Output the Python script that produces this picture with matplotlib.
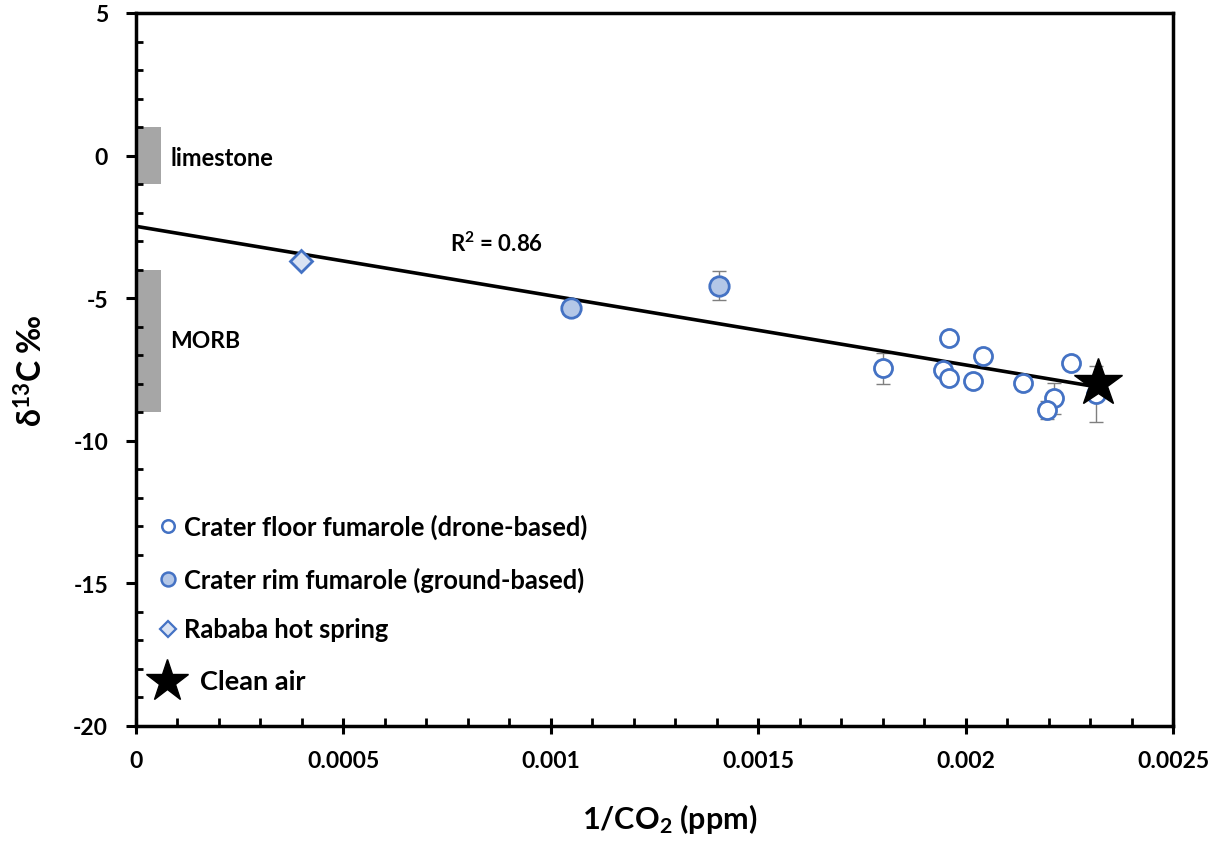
import matplotlib
matplotlib.use("Agg")
import matplotlib.pyplot as plt
from matplotlib.ticker import MultipleLocator, FuncFormatter
import numpy as np

plt.rcParams['font.family'] = ['Lato', 'DejaVu Sans']
plt.rcParams['mathtext.fontset'] = 'custom'
plt.rcParams['mathtext.rm'] = 'Lato:bold'
plt.rcParams['mathtext.bf'] = 'Lato:bold'
plt.rcParams['mathtext.it'] = 'Lato:bold'
plt.rcParams['mathtext.default'] = 'bf'

# ---- data ----
floor_x = [0.00180, 0.001961, 0.001946, 0.001961, 0.002017, 0.002043,
           0.002138, 0.002253, 0.002214, 0.002197, 0.002314]
floor_y = [-7.46, -6.41, -7.52, -7.81, -7.89, -7.02,
           -7.97, -7.27, -8.51, -8.92, -8.36]
floor_err = [0.55, 0.0, 0.0, 0.0, 0.0, 0.0, 0.0, 0.0, 0.55, 0.3, 0.97]

rim_x = [0.001048, 0.001406]
rim_y = [-5.34, -4.56]
rim_err = [0.0, 0.5]

spring_x = [0.000397]
spring_y = [-3.68]

air_x = [0.00232]
air_y = [-7.97]

trend_intercept = -2.48
trend_slope = -2430.0
trend_xmax = 0.002307
r2_text = "R$^2$ = 0.86"

limestone_range = (-1.0, 1.0)
morb_range = (-9.0, -4.0)
bar_width = 0.00006

legend_labels = ["Crater floor fumarole (drone-based)",
                 "Crater rim fumarole (ground-based)",
                 "Rababa hot spring",
                 "Clean air"]

blue = "#4472C4"
rim_fill = "#B4C7E7"
spring_fill = "#DAE3F3"
gray_bar = "#A6A6A6"

fig = plt.figure(figsize=(12.26, 8.54), dpi=100)
ax = fig.add_axes([136/1226, 1-727/854, (1173-136)/1226, (727-14)/854])

ax.set_xlim(0, 0.0025)
ax.set_ylim(-20, 5)

# reference bars
ax.bar(0, limestone_range[1]-limestone_range[0], bottom=limestone_range[0],
       width=bar_width, align='edge', color=gray_bar, zorder=1)
ax.bar(0, morb_range[1]-morb_range[0], bottom=morb_range[0],
       width=bar_width, align='edge', color=gray_bar, zorder=1)
ax.text(0.000082, -0.08, "limestone", fontsize=17, fontweight='bold', va='center', ha='left')
ax.text(0.000082, -6.5, "MORB", fontsize=16.5, fontweight='bold', va='center', ha='left')

# trend line
xt = np.array([0, trend_xmax])
ax.plot(xt, trend_intercept + trend_slope*xt, color='black', lw=2.6, zorder=3)
ax.text(0.000868, -3.06, r2_text, fontsize=16, fontweight='bold', ha='center', va='center')

# error bars
ax.errorbar(floor_x, floor_y, yerr=floor_err, fmt='none', ecolor='#7F7F7F',
            elinewidth=1.0, capsize=5, capthick=1.0, zorder=2)
ax.errorbar(rim_x, rim_y, yerr=rim_err, fmt='none', ecolor='#7F7F7F',
            elinewidth=1.0, capsize=5, capthick=1.0, zorder=2)

# points
ax.plot(floor_x, floor_y, 'o', ms=13, mfc='white', mec=blue, mew=2.0, zorder=4, ls='none')
ax.plot(rim_x, rim_y, 'o', ms=14, mfc=rim_fill, mec=blue, mew=2.0, zorder=4, ls='none')
ax.plot(spring_x, spring_y, 'D', ms=11, mfc=spring_fill, mec=blue, mew=2.0, zorder=4, ls='none')
ax.plot(air_x, air_y, '*', ms=36, mfc='black', mec='black', zorder=5, ls='none')

# manual legend (axes fraction)
def fx(px):
    return (px-136)/(1173-136)
def fy(py):
    return (727-py)/(727-14)

leg_rows = [527, 580, 630, 682]
ax.plot(fx(168), fy(leg_rows[0]), 'o', ms=9, mfc='white', mec=blue, mew=1.8, transform=ax.transAxes, clip_on=False)
ax.plot(fx(168), fy(leg_rows[1]), 'o', ms=10, mfc=rim_fill, mec=blue, mew=1.8, transform=ax.transAxes, clip_on=False)
ax.plot(fx(168), fy(leg_rows[2]), 'D', ms=8, mfc=spring_fill, mec=blue, mew=1.6, transform=ax.transAxes, clip_on=False)
ax.plot(fx(167), fy(leg_rows[3]), '*', ms=32, mfc='black', mec='black', transform=ax.transAxes, clip_on=False)
for i in range(3):
    ax.text(fx(184), fy(leg_rows[i]), legend_labels[i], transform=ax.transAxes,
            fontsize=18.4, fontweight='bold', va='center')
ax.text(fx(200), fy(leg_rows[3]), legend_labels[3], transform=ax.transAxes,
        fontsize=19.5, fontweight='bold', va='center')

# axes styling
for s in ax.spines.values():
    s.set_linewidth(2.5)
ax.xaxis.set_major_locator(MultipleLocator(0.0005))
ax.xaxis.set_minor_locator(MultipleLocator(0.0001))
ax.yaxis.set_major_locator(MultipleLocator(5))
ax.yaxis.set_minor_locator(MultipleLocator(1))

def xfmt(v, pos):
    if abs(v) < 1e-12:
        return "0"
    return ("%.4f" % v).rstrip('0')
ax.xaxis.set_major_formatter(FuncFormatter(xfmt))
ax.yaxis.set_major_formatter(FuncFormatter(lambda v, p: "%d" % v))

ax.tick_params(axis='x', which='major', direction='inout', length=12, width=2.2, pad=11, labelsize=16.5)
ax.tick_params(axis='x', which='minor', direction='in', length=6, width=2.0)
ax.tick_params(axis='y', which='major', direction='out', length=7, width=2.2, pad=13, labelsize=16.5)
ax.tick_params(axis='y', which='minor', direction='in', length=5, width=2.0)
for lab in ax.get_xticklabels() + ax.get_yticklabels():
    lab.set_fontweight('bold')

ax.set_xlabel("1/CO$_2$ (ppm)", fontsize=22, fontweight='bold', labelpad=24)
ax.xaxis.set_label_coords(0.515, -0.105)
ax.set_ylabel("δ$^{13}$C ‰", fontsize=23, fontweight='bold', labelpad=18)

fig.savefig("out.png", dpi=100)
